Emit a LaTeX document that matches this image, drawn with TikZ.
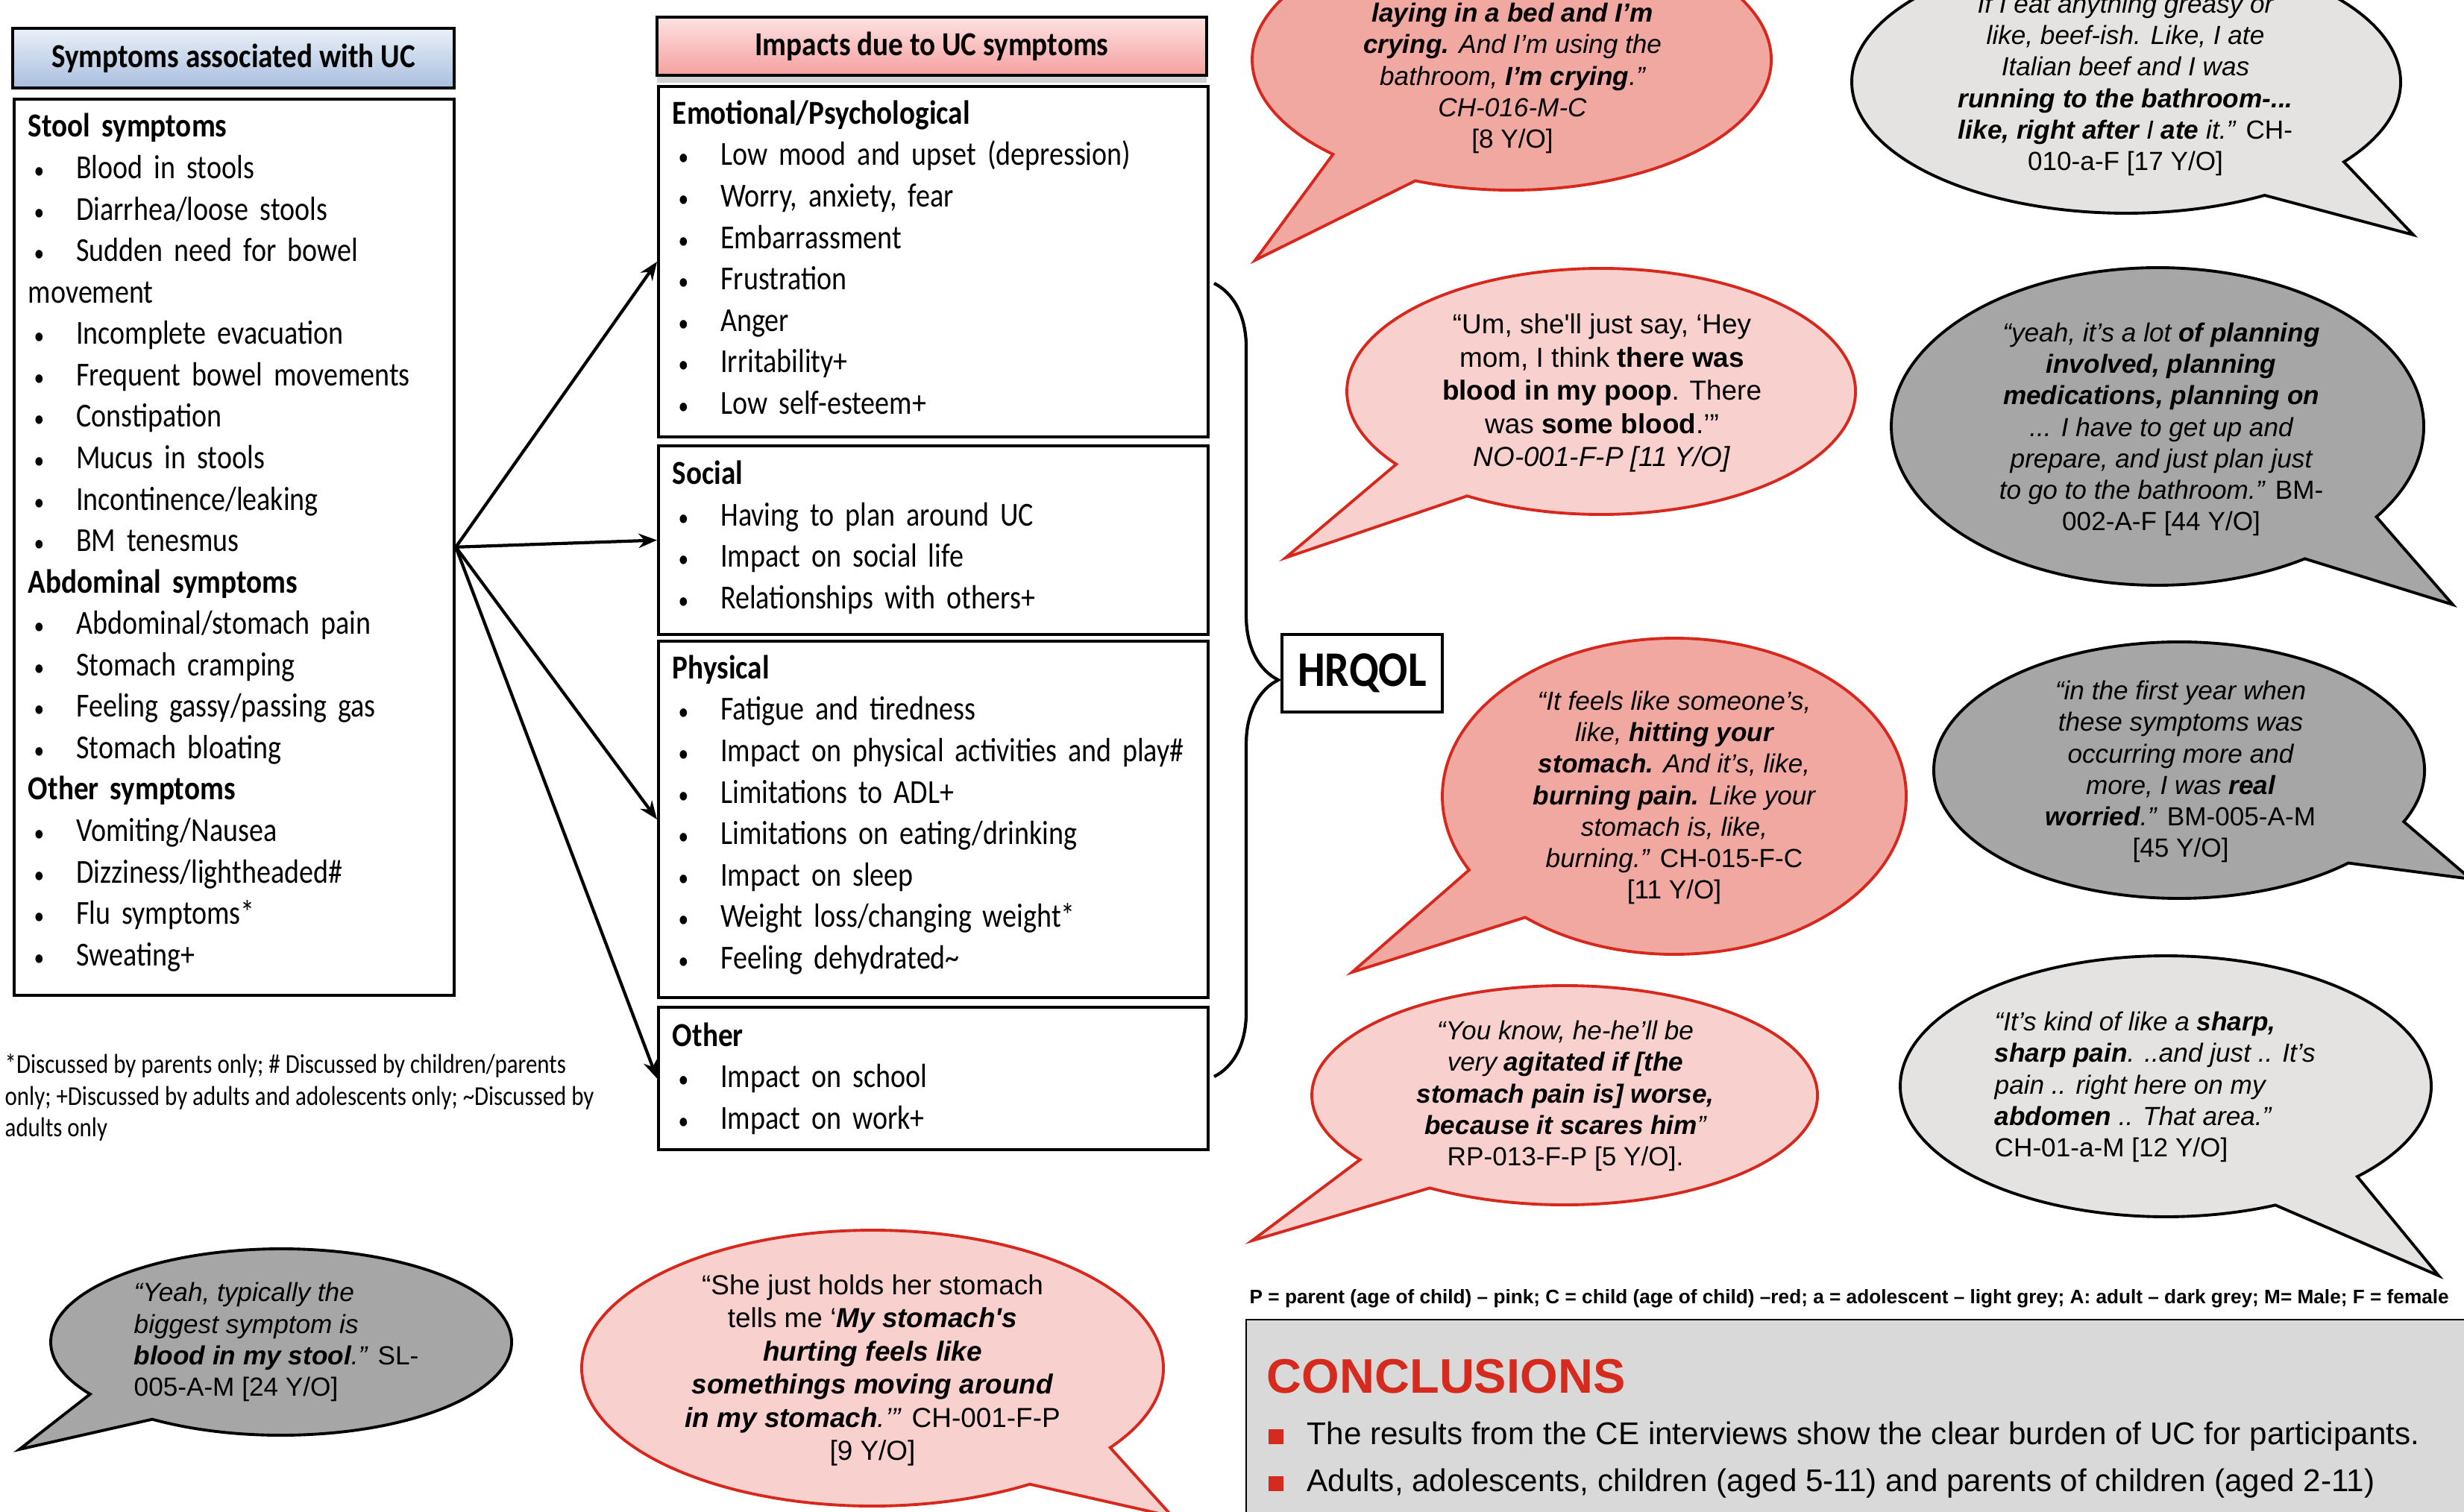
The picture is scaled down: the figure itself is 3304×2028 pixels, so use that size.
\documentclass[tikz,border=0pt]{standalone}
\usepackage{fontspec}
\setmainfont{Liberation Sans}
\newfontfamily\boxfont[FakeStretch=0.845]{Carlito}
\newfontfamily\headfont[FakeStretch=0.87]{Carlito}
\newfontfamily\bubfont{Liberation Sans}
\usetikzlibrary{arrows.meta}
\usetikzlibrary{decorations.pathreplacing}
\usetikzlibrary{shadows}

\definecolor{bubred}{RGB}{215,40,30}
\definecolor{childfill}{RGB}{241,168,161}
\definecolor{parentfill}{RGB}{248,208,205}
\definecolor{lightgr}{RGB}{228,227,226}
\definecolor{darkgr}{RGB}{166,166,166}
\definecolor{symtop}{RGB}{234,240,248}
\definecolor{symbot}{RGB}{168,190,222}
\definecolor{imptop}{RGB}{253,226,226}
\definecolor{impbot}{RGB}{244,160,158}
\definecolor{concgrey}{RGB}{217,217,217}
\definecolor{concred}{RGB}{213,43,30}

\newcommand{\hd}[1]{{\headfont\bfseries #1}}
\newcommand{\itm}[1]{\mbox{\makebox[18.3pt][l]{\hspace{2.2pt}\scalebox{0.72}{\textbullet}}#1}}
\newcommand{\concbul}{\makebox[14.8pt][l]{\textcolor{concred}{\rule{5.9pt}{5.7pt}}}}
% speech bubble: style, centre x, centre y, x radius, y radius, tail angles, tip
\newcommand{\bubble}[8]{%
  \draw[#1] (#2,#3) ++(#7:#4 and #5)
    arc[start angle=#7, end angle=#6+360, x radius=#4*0.01cm, y radius=#5*0.01cm]
    -- (#8) -- cycle;}

\begin{document}
\begin{tikzpicture}[x=0.01cm, y=0.01cm, >={Stealth[length=7pt,width=5.5pt]},
  listbox/.style={draw, line width=1.1pt, anchor=north west, align=left,
    inner xsep=0.19cm, inner ysep=0pt, font=\boxfont\fontsize{12.8}{15.8}\selectfont},
  titlebox/.style={draw, line width=1.1pt, font=\headfont\bfseries\fontsize{12.8}{15.8}\selectfont},
  qtext/.style={font=\bubfont\fontsize{10.5}{12.65}\selectfont, align=center, inner sep=0pt},
  childb/.style={fill=childfill, draw=bubred, line width=1.1pt},
  parentb/.style={fill=parentfill, draw=bubred, line width=1.1pt},
  adolb/.style={fill=lightgr, draw=black, line width=1.1pt},
  adultb/.style={fill=darkgr, draw=black, line width=1.1pt}]

  \useasboundingbox (0,0) rectangle (3304,-2028);
  \clip (0,0) rectangle (3304,-2028);
  \fill[white] (0,0) rectangle (3304,-2028);

  % symptoms
  \node[titlebox, top color=symtop, bottom color=symbot, minimum width=5.92cm,
    minimum height=0.80cm] (symtitle) at (313,-78) {Symptoms associated with UC};
  \node[listbox, text width=5.52cm, minimum height=12.01cm] (stool) at (17,-131) {%
    \hd{Stool symptoms}\\
    \itm{Blood in stools}\\
    \itm{Diarrhea/loose stools}\\
    \itm{Sudden need for bowel}\\
    movement\\
    \itm{Incomplete evacuation}\\
    \itm{Frequent bowel movements}\\
    \itm{Constipation}\\
    \itm{Mucus in stools}\\
    \itm{Incontinence/leaking}\\
    \itm{BM tenesmus}\\
    \hd{Abdominal symptoms}\\
    \itm{Abdominal/stomach pain}\\
    \itm{Stomach cramping}\\
    \itm{Feeling gassy/passing gas}\\
    \itm{Stomach bloating}\\
    \hd{Other symptoms}\\
    \itm{Vomiting/Nausea}\\
    \itm{Dizziness/lightheaded\#}\\
    \itm{Flu symptoms*}\\
    \itm{Sweating+}\rule[-0.2cm]{0pt}{0pt}};
  \node[anchor=west, align=left, inner sep=0pt,
    font=\boxfont\fontsize{10.4}{12.2}\selectfont] (fnote) at (6,-1472)
    {*Discussed by parents only; \# Discussed by children/parents\\
     only; +Discussed by adults and adolescents only; \textasciitilde Discussed by\\
     adults only};

  % impacts
  \node[titlebox, top color=imptop, bottom color=impbot, minimum width=7.37cm,
    minimum height=0.78cm, drop shadow={shadow xshift=0pt, shadow yshift=-0.1cm, opacity=0.35}]
    (imptitle) at (1249.5,-62) {Impacts due to UC symptoms};
  \node[listbox, text width=6.99cm, minimum height=4.70cm] (emo) at (881,-114) {%
    \hd{Emotional/Psychological}\\
    \itm{Low mood and upset (depression)}\\
    \itm{Worry, anxiety, fear}\\
    \itm{Embarrassment}\\
    \itm{Frustration}\\
    \itm{Anger}\\
    \itm{Irritability+}\\
    \itm{Low self-esteem+}\rule[-0.12cm]{0pt}{0pt}};
  \node[listbox, text width=6.99cm, minimum height=2.53cm] (soc) at (881,-596) {%
    \hd{Social}\\
    \itm{Having to plan around UC}\\
    \itm{Impact on social life}\\
    \itm{Relationships with others+}\rule[-0.15cm]{0pt}{0pt}};
  \node[listbox, text width=6.99cm, minimum height=4.78cm] (phys) at (881,-858) {%
    \hd{Physical}\\
    \itm{Fatigue and tiredness}\\
    \itm{Impact on physical activities and play\#}\\
    \itm{Limitations to ADL+}\\
    \itm{Limitations on eating/drinking}\\
    \itm{Impact on sleep}\\
    \itm{Weight loss/changing weight*}\\
    \itm{Feeling dehydrated\textasciitilde}\rule[-0.2cm]{0pt}{0pt}};
  \node[listbox, text width=6.99cm, minimum height=1.91cm] (oth) at (881,-1349) {%
    \hd{Other}\\
    \itm{Impact on school}\\
    \itm{Impact on work+}};

  % arrows
  \foreach \b in {emo,soc,phys,oth}
    \draw[->, line width=1.2pt] (stool.east) -- (\b.west);

  % brace and HRQOL
  \coordinate (btop) at (1628,-380);
  \coordinate (bbot) at (1628,-1444);
  \draw[line width=1.2pt, decorate, decoration={brace, amplitude=0.86cm}] (btop) -- (bbot);
  \node[draw, line width=1.1pt, minimum width=2.15cm, minimum height=1.04cm,
    font=\headfont\bfseries\fontsize{19}{22}\selectfont] (hrqol) at (1826.5,-903) {HRQOL};

  % bubbles
  \bubble{childb}{2027}{-80}{348}{175}{226.5}{248.2}{1683,-349}
  \bubble{parentb}{2147}{-525}{341}{165}{216.3}{238.2}{1724,-748}
  \bubble{adolb}{2851}{-110}{368}{176}{300.3}{322.5}{3236,-315}
  \bubble{adultb}{2893}{-572}{357}{213}{303.6}{325.3}{3289,-811}
  \bubble{childb}{2245}{-1068}{311}{212}{207.8}{230}{1813,-1304}
  \bubble{parentb}{2098}{-1469}{339}{147}{216}{237.8}{1679,-1664}
  \bubble{adultb}{2922}{-1033}{329}{172}{313.6}{336.3}{3313,-1179}
  \bubble{adolb}{2904}{-1457}{356}{175}{294.4}{316.2}{3270,-1711}
  \bubble{adultb}{377}{-1800}{309}{125}{214}{236}{26,-1944}
  \bubble{parentb}{1170}{-1835}{390}{185}{302.7}{324.8}{1572,-2034}

  % quotes
  \node[qtext, font=\itshape] (q1) at (2028,-105) {%
    \textbf{laying in a bed and I'm}\\
    \textbf{crying.} And I'm using the\\
    bathroom, \textbf{I'm crying}.”\\
    CH-016-M-C\\
    \textup{[8 Y/O]}};
  \node[qtext] (q2) at (2148,-527) {%
    “Um, she'll just say, ‘Hey\\
    mom, I think \textbf{there was}\\
    \textbf{blood in my poop}. There\\
    was \textbf{some blood}.’”\\
    \textit{NO-001-F-P [11 Y/O]}};
  \node[qtext, font=\itshape] (q3) at (2850,-114) {%
    If I eat anything greasy or\\
    like, beef-ish. Like, I ate\\
    Italian beef and I was\\
    \textbf{running to the bathroom-...}\\
    \textbf{like, right after} I \textbf{ate} it.” \textup{CH-}\\
    \textup{010-a-F [17 Y/O]}};
  \node[qtext, font=\itshape] (q4) at (2898,-576) {%
    “yeah, it's a lot \textbf{of planning}\\
    \textbf{involved, planning}\\
    \textbf{medications, planning on}\\
    ... I have to get up and\\
    prepare, and just plan just\\
    to go to the bathroom.” \textup{BM-}\\
    \textup{002-A-F [44 Y/O]}};
  \node[qtext, font=\itshape] (q5) at (2245,-1070) {%
    “It feels like someone's,\\
    like, \textbf{hitting your}\\
    \textbf{stomach.} And it's, like,\\
    \textbf{burning pain.} Like your\\
    stomach is, like,\\
    burning.” \textup{CH-015-F-C}\\
    \textup{[11 Y/O]}};
  \node[qtext, font=\itshape] (q6) at (2099,-1470) {%
    “You know, he-he'll be\\
    very \textbf{agitated if [the}\\
    \textbf{stomach pain is] worse,}\\
    \textbf{because it scares him}”\\
    \textup{RP-013-F-P [5 Y/O].}};
  \node[qtext, font=\itshape] (q7) at (2924,-1035) {%
    “in the first year when\\
    these symptoms was\\
    occurring more and\\
    more, I was \textbf{real}\\
    \textbf{worried}.” \textup{BM-005-A-M}\\
    \textup{[45 Y/O]}};
  \node[qtext, font=\itshape, align=left, anchor=west] (q8) at (2674,-1458) {%
    “It's kind of like a \textbf{sharp,}\\
    \textbf{sharp pain}. ..and just .. It's\\
    pain .. right here on my\\
    \textbf{abdomen} .. That area.”\\
    \textup{CH-01-a-M [12 Y/O]}};
  \node[qtext, font=\itshape, align=left, anchor=west] (q9) at (179,-1800) {%
    “Yeah, typically the\\
    biggest symptom is\\
    \textbf{blood in my stool}.” \textup{SL-}\\
    \textup{005-A-M [24 Y/O]}};
  \node[qtext] (q10) at (1170,-1838) {%
    “She just holds her stomach\\
    tells me ‘\textbf{\textit{My stomach's}}\\
    \textbf{\textit{hurting feels like}}\\
    \textbf{\textit{somethings moving around}}\\
    \textbf{\textit{in my stomach}}\textit{.’”} CH-001-F-P\\
    {[9 Y/O]}};

  % legend
  \node[anchor=base west, inner sep=0pt, font=\bfseries\fontsize{7.45}{9}\selectfont] (legend)
    at (1675,-1748) {P = parent (age of child) – pink; C = child (age of child) –red; a = adolescent – light grey; A: adult – dark grey; M= Male; F = female};

  % conclusions
  \draw[fill=concgrey, line width=0.6pt] (1671,-1770) rectangle (3340,-2060);
  \node[anchor=base west, inner sep=0pt, text=concred,
    font=\bfseries\fontsize{18.5}{22}\selectfont] (conctitle) at (1698,-1868) {CONCLUSIONS};
  \node[anchor=base west, inner sep=0pt, font=\fontsize{12}{14.4}\selectfont] (concA)
    at (1700,-1937) {\concbul The results from the CE interviews show the clear burden of UC for participants.};
  \node[anchor=base west, inner sep=0pt, font=\fontsize{12}{14.4}\selectfont] (concB)
    at (1700,-2000) {\concbul Adults, adolescents, children (aged 5-11) and parents of children (aged 2-11)};
\end{tikzpicture}
\end{document}
